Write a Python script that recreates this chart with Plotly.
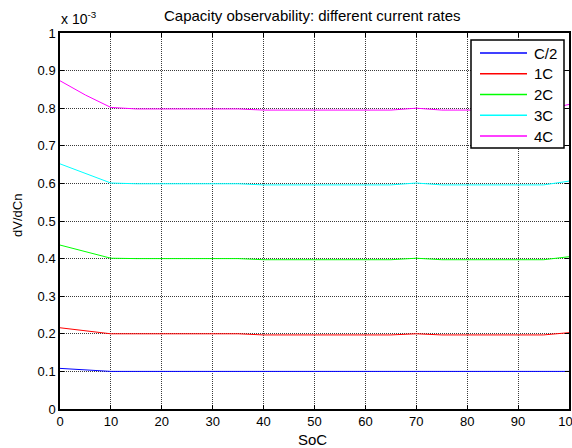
import plotly.graph_objects as go

# State of charge sample points
soc = [0, 5, 10, 15, 20, 25, 30, 35, 40, 45, 50, 55, 60, 65, 70, 75, 80, 85, 90, 95, 100]

# dV/dCn for each current rate, in units of 1e-3
c_half = [0.108, 0.104, 0.100, 0.100, 0.100, 0.100, 0.100, 0.100, 0.098, 0.098, 0.098, 0.098, 0.098, 0.098, 0.100, 0.098, 0.098, 0.098, 0.098, 0.098, 0.100]
c_1 = [0.216, 0.208, 0.200, 0.200, 0.200, 0.200, 0.200, 0.200, 0.197, 0.197, 0.197, 0.197, 0.197, 0.197, 0.200, 0.197, 0.197, 0.197, 0.197, 0.197, 0.203]
c_2 = [0.436, 0.418, 0.401, 0.400, 0.400, 0.400, 0.400, 0.400, 0.397, 0.397, 0.397, 0.397, 0.397, 0.397, 0.401, 0.397, 0.397, 0.397, 0.397, 0.397, 0.405]
c_3 = [0.652, 0.626, 0.601, 0.599, 0.599, 0.599, 0.599, 0.599, 0.596, 0.596, 0.596, 0.596, 0.596, 0.596, 0.601, 0.596, 0.596, 0.596, 0.596, 0.596, 0.606]
c_4 = [0.873, 0.835, 0.802, 0.798, 0.798, 0.798, 0.798, 0.798, 0.795, 0.795, 0.795, 0.795, 0.795, 0.795, 0.800, 0.795, 0.795, 0.795, 0.795, 0.795, 0.810]

names = ["C/2", "1C", "2C", "3C", "4C"]
colors = ["#0000ff", "#ff0000", "#00ff00", "#00ffff", "#ff00ff"]
series = [c_half, c_1, c_2, c_3, c_4]

x_ticks = [0, 10, 20, 30, 40, 50, 60, 70, 80, 90, 100]
y_ticks = [0, 0.1, 0.2, 0.3, 0.4, 0.5, 0.6, 0.7, 0.8, 0.9, 1]
y_ticktext = ["0", "0.1", "0.2", "0.3", "0.4", "0.5", "0.6", "0.7", "0.8", "0.9", "1"]

font = "Liberation Sans, Arial, sans-serif"

W, H = 572, 448
L, R, T, B = 60, 569, 33, 409  # plot area in pixels


def px(x):
    return (x - L) / (R - L)


def py(y):
    return (B - y) / (B - T)


fig = go.Figure()
for name, color, ys in zip(names, colors, series):
    fig.add_trace(go.Scatter(x=soc, y=ys, mode="lines", name=name,
                             line=dict(color=color, width=1), showlegend=False))

axis_common = dict(
    showline=True, linecolor="black", linewidth=1.5, mirror="allticks",
    ticks="inside", ticklen=4, tickcolor="black", tickwidth=1,
    showgrid=True, gridcolor="#3a3a3a", griddash="1px,1px", gridwidth=1,
    zeroline=False, automargin=False,
    tickfont=dict(family=font, size=13, color="black"),
)

fig.update_xaxes(range=[0, 100], tickvals=x_ticks, ticklabeloverflow="allow", **axis_common)
fig.update_yaxes(range=[0, 1], tickvals=y_ticks, ticktext=y_ticktext, **axis_common)

# Titles
fig.add_annotation(text="Capacity observability: different current rates",
                   xref="paper", yref="paper", x=px(312), y=py(16),
                   showarrow=False, xanchor="center", yanchor="middle",
                   font=dict(family=font, size=15, color="black"))
fig.add_annotation(text="SoC", xref="paper", yref="paper", x=px(312), y=py(439),
                   showarrow=False, xanchor="center", yanchor="middle",
                   font=dict(family=font, size=15, color="black"))
fig.add_annotation(text="dV/dCn", xref="paper", yref="paper", x=px(17), y=py(216),
                   showarrow=False, xanchor="center", yanchor="middle", textangle=-90,
                   font=dict(family=font, size=13, color="black"))
fig.add_annotation(text="x 10<sup>-3</sup>", xref="paper", yref="paper",
                   x=px(59), y=py(29), showarrow=False, xanchor="left", yanchor="bottom",
                   font=dict(family=font, size=14, color="black"))

# Legend box
lx0, lx1, ly0, ly1 = 471, 564, 40, 148
fig.add_shape(type="rect", xref="paper", yref="paper",
              x0=px(lx0), x1=px(lx1), y0=py(ly1), y1=py(ly0),
              line=dict(color="black", width=1.5), fillcolor="white", layer="above")
for i, (name, color) in enumerate(zip(names, colors)):
    yy = 53 + i * 20.75
    fig.add_shape(type="line", xref="paper", yref="paper",
                  x0=px(480), x1=px(527), y0=py(yy), y1=py(yy),
                  line=dict(color=color, width=1.5), layer="above")
    fig.add_annotation(text=name, xref="paper", yref="paper", x=px(532), y=py(yy),
                       showarrow=False, xanchor="left", yanchor="middle",
                       font=dict(family=font, size=15, color="black"))

fig.update_layout(
    width=W, height=H,
    margin=dict(l=L, r=W - R, t=T, b=H - B),
    paper_bgcolor="white", plot_bgcolor="white",
    showlegend=False,
)

fig.write_html("out.html")
